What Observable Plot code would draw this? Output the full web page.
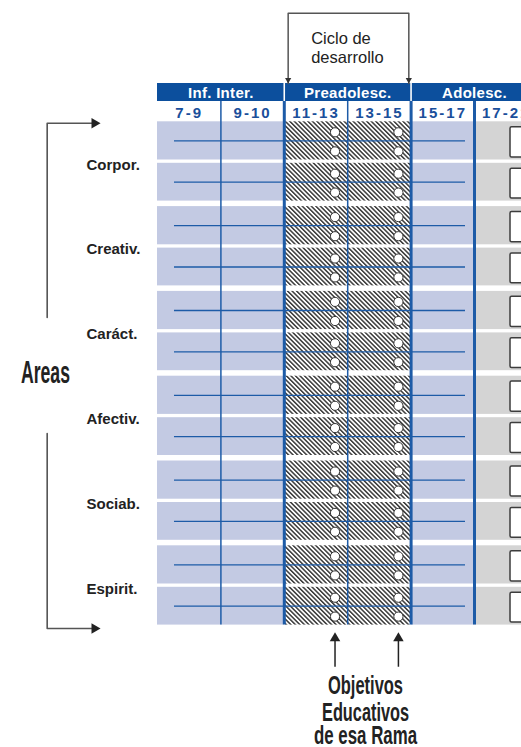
<!DOCTYPE html>
<html><head><meta charset="utf-8">
<script src="https://cdn.jsdelivr.net/npm/d3@7"></script>
<script src="https://cdn.jsdelivr.net/npm/@observablehq/plot@0.6"></script>
<style>
html,body{margin:0;padding:0;overflow:hidden;background:#fff;}
</style>
</head><body><div id="chart"></div>
<script>
// ---------- data ----------
const areas = ["Corpor.", "Creativ.", "Caráct.", "Afectiv.", "Sociab.", "Espirit."];
const ages = ["7-9", "9-10", "11-13", "13-15", "15-17", "17-21"];
const stages = ["Inf. Inter.", "Preadolesc.", "Adolesc."];
const ageStage = ["Inf. Inter.", "Inf. Inter.", "Preadolesc.", "Preadolesc.", "Adolesc.", "Adolesc."];
const objectiveAges = ["11-13", "13-15"];   // ciclo de desarrollo de la Rama
const nextBranchAges = ["17-21"];
const blocksPerArea = 2;
const objectivesPerBlock = 2;
const cycleLabel = ["Ciclo de", "desarrollo"];
const areasLabel = ["Areas"];
const objectivesLabel = ["Objetivos", "Educativos", "de esa Rama"];

// ---------- layout (scale units: 1 x-unit = one age column, 1 y-unit = one area) ----------
const L = {
  blockTop: [0, 0.4894], blockBottom: [0.4505, 0.9351],
  bandTop: -0.4517, bandBottom: -0.2394,
  stageY: -0.3396, ageY: -0.1038,
  ruleX1: 0.268, ruleX2: 4.858,
  objDx: 0.8, objFrac: [0.275, 0.775],
  boxDx: 0.568
};
const A = {
  cycleX: [2.061, 3.964], cycleTop: -1.2807,
  cycleTextX: 2.424, cycleTextY: [-0.9116, -0.6958],
  areasX: -1.74, areasTipX: -0.899, areasTop: [0.0165, 2.308], areasBottom: [3.6757, 5.9752],
  areasTextX: -1.767, areasTextY: 3.0825,
  areaLabelX: -1.12, areaLabelDy: 0.507,
  objArrowY: [6.019, 6.432], objTextX: 3.281, objTextY: [6.742, 7.066, 7.34]
};
const condensedWidth = {"Areas": 49, "Objetivos": 75, "Educativos": 87, "de esa Rama": 103};

const C = {
  band: "#0c4f9d", light: "#c3cae3", line: "#1d5ba7", gray: "#d4d4d4",
  ageText: "#1a4f9b", dark: "#222", bracket: "#555"
};

// ---------- derived tables ----------
const cells = [], hlines = [], objectives = [], boxes = [];
areas.forEach((area, i) => {
  for (let b = 0; b < blocksPerArea; b++) {
    const y1 = i + L.blockTop[b], y2 = i + L.blockBottom[b];
    hlines.push({y: (y1 + y2) / 2});
    ages.forEach((age, j) => {
      const kind = objectiveAges.includes(age) ? "objective" : nextBranchAges.includes(age) ? "next" : "branch";
      cells.push({area, age, kind, x1: j, x2: j + 1, y1, y2});
      if (kind === "objective") {
        for (let k = 0; k < objectivesPerBlock; k++)
          objectives.push({x: j + L.objDx, y: y1 + L.objFrac[k] * (y2 - y1)});
      }
      if (kind === "next") boxes.push({x1: j + L.boxDx, x2: j + 1.5, y1, y2});
    });
  }
});
const stageSpans = stages.map(s => {
  const idx = ageStage.map((t, j) => t === s ? j : -1).filter(j => j >= 0);
  return {stage: s, x1: d3.min(idx), x2: d3.max(idx) + 1};
});
const boundaries = d3.range(1, ages.length).map(j => ({
  x: j,
  stageEdge: ageStage[j] !== ageStage[j - 1],
  thick: ageStage[j] !== ageStage[j - 1] ||
    nextBranchAges.includes(ages[j]) !== nextBranchAges.includes(ages[j - 1])
}));
const tableBottom = areas.length - 1 + L.blockBottom[1];

const chart = Plot.plot({
  width: 521, height: 747,
  marginTop: 0, marginRight: 0, marginBottom: 0, marginLeft: 0,
  x: {domain: [0, 6], range: [157, 537.4], axis: null},
  y: {domain: [0, 6], range: [121.3, 630.1], axis: null},
  style: {fontFamily: "'Liberation Sans', Arial, sans-serif", background: "white", overflow: "hidden"},
  marks: [
    // cells
    Plot.rect(cells.filter(d => d.kind === "branch"), {x1: "x1", x2: "x2", y1: "y1", y2: "y2", fill: C.light}),
    Plot.rect(cells.filter(d => d.kind === "objective"), {x1: "x1", x2: "x2", y1: "y1", y2: "y2", fill: "url(#hatch)"}),
    Plot.rect(cells.filter(d => d.kind === "next"), {x1: "x1", x2: "x2", y1: "y1", y2: "y2", fill: C.gray}),
    Plot.rect(boxes, {x1: "x1", x2: "x2", y1: "y1", y2: "y2", insetTop: 5.4, insetBottom: 2.6,
      fill: "white", stroke: "#3d3d3d", strokeWidth: 1.5, rx: 1.5}),
    // row lines
    Plot.ruleY(hlines, {y: "y", x1: () => L.ruleX1, x2: () => L.ruleX2, stroke: C.line, strokeWidth: 1.3}),
    // column lines
    Plot.ruleX(boundaries.filter(d => !d.thick), {x: "x", y1: () => L.bandBottom, y2: () => tableBottom, stroke: C.line, strokeWidth: 1.5}),
    Plot.ruleX(boundaries.filter(d => d.thick), {x: "x", y1: () => L.bandBottom, y2: () => tableBottom, stroke: C.line, strokeWidth: 3}),
    // objective circles
    Plot.dot(objectives, {x: "x", y: "y", r: 4.6, fill: "white", stroke: "#333", strokeWidth: 1}),
    // header band
    Plot.rect(stageSpans, {x1: "x1", x2: "x2", y1: () => L.bandTop, y2: () => L.bandBottom, fill: C.band}),
    Plot.ruleX(boundaries.filter(d => d.stageEdge), {x: "x", y1: () => L.bandTop, y2: () => L.bandBottom, stroke: "white", strokeWidth: 1.5}),
    Plot.text(stageSpans, {x: d => (d.x1 + d.x2) / 2, y: () => L.stageY, text: "stage", fill: "white",
      fontSize: 15, fontWeight: "bold"}),
    Plot.text(ages, {x: (d, j) => j + 0.5, y: () => L.ageY, text: d => d, fill: C.ageText,
      fontSize: 15, fontWeight: "bold"}),
    // area labels
    Plot.text(areas, {x: () => A.areaLabelX, y: (d, i) => i + A.areaLabelDy, text: d => d, textAnchor: "start",
      fill: C.dark, fontSize: 15, fontWeight: "bold"}),
    // "Ciclo de desarrollo" bracket
    Plot.line([[A.cycleX[0], L.bandTop], [A.cycleX[0], A.cycleTop], [A.cycleX[1], A.cycleTop], [A.cycleX[1], L.bandTop]],
      {x: d => d[0], y: d => d[1], stroke: C.bracket, strokeWidth: 1.5}),
    Plot.dot(A.cycleX, {x: d => d, y: () => L.bandTop, symbol: "triangle", r: 2.3, rotate: 180, dy: -3.6,
      fill: "#333", stroke: "none"}),
    Plot.text(cycleLabel, {x: () => A.cycleTextX, y: (d, i) => A.cycleTextY[i], text: d => d, textAnchor: "start",
      lineAnchor: "bottom", fill: C.dark, fontSize: 16.5}),
    // Areas bracket
    Plot.line([[A.areasX, A.areasTop[1]], [A.areasX, A.areasTop[0]], [A.areasTipX - 0.1, A.areasTop[0]]],
      {x: d => d[0], y: d => d[1], stroke: C.bracket, strokeWidth: 1.6}),
    Plot.line([[A.areasX, A.areasBottom[0]], [A.areasX, A.areasBottom[1]], [A.areasTipX - 0.1, A.areasBottom[1]]],
      {x: d => d[0], y: d => d[1], stroke: C.bracket, strokeWidth: 1.6}),
    Plot.dot([A.areasTop[0], A.areasBottom[1]], {x: () => A.areasTipX, y: d => d, symbol: "triangle", r: 3.9,
      rotate: 90, dx: -6, fill: "#222", stroke: "none"}),
    Plot.text(areasLabel, {x: () => A.areasTextX, y: () => A.areasTextY, text: d => d, lineAnchor: "bottom",
      fill: C.dark, fontSize: 31, fontWeight: "bold"}),
    // Objetivos arrows
    Plot.ruleX(objectiveAges.map(a => ages.indexOf(a) + L.objDx), {x: d => d, y1: () => A.objArrowY[0] + 0.05,
      y2: () => A.objArrowY[1], stroke: "#222", strokeWidth: 1.5}),
    Plot.dot(objectiveAges.map(a => ages.indexOf(a) + L.objDx), {x: d => d, y: () => A.objArrowY[0], symbol: "triangle",
      r: 3.9, dy: 6, fill: "#222", stroke: "none"}),
    Plot.text(objectivesLabel, {x: () => A.objTextX, y: (d, i) => A.objTextY[i], text: d => d, lineAnchor: "bottom",
      fill: C.dark, fontSize: 26.5, fontWeight: "bold"})
  ]
});

// hatch pattern definition
const ns = "http://www.w3.org/2000/svg";
const defs = document.createElementNS(ns, "defs");
defs.innerHTML = '<pattern id="hatch" patternUnits="userSpaceOnUse" width="3.2" height="3.2" patternTransform="rotate(-45)">' +
  '<rect width="3.2" height="3.2" fill="#ffffff"></rect><rect width="1.5" height="3.2" fill="#3a3a3a"></rect></pattern>';
chart.insertBefore(defs, chart.firstChild);

document.getElementById("chart").appendChild(chart);

// typographic adjustments: condensed display type, spaced age labels
d3.select(chart).selectAll("text").each(function () {
  const t = this.textContent.trim();
  const w = condensedWidth[t];
  if (w) { this.setAttribute("textLength", w); this.setAttribute("lengthAdjust", "spacingAndGlyphs"); }
  if (ages.includes(t)) this.style.letterSpacing = "2px";
  if (stages.includes(t)) this.style.letterSpacing = "0.3px";
});
</script>
</body></html>
